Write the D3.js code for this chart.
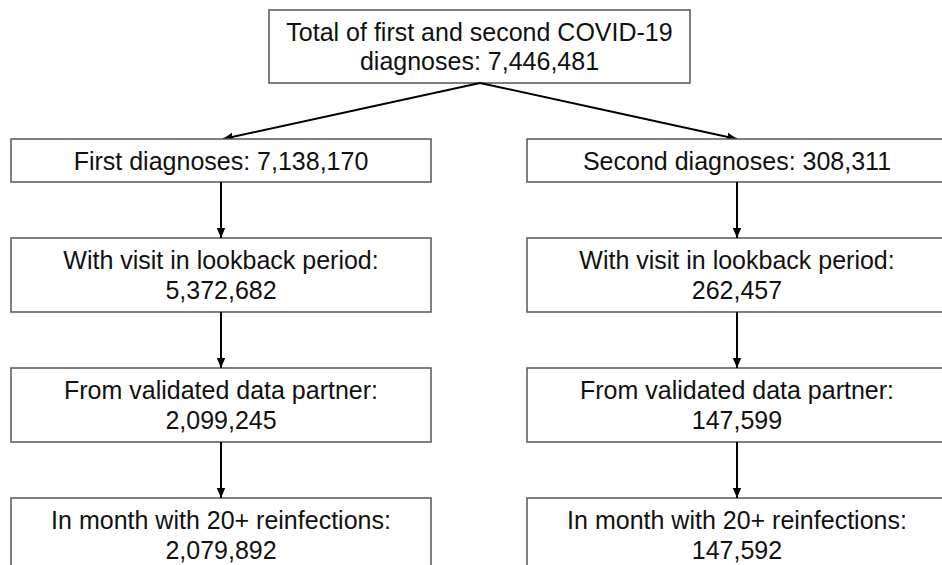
<!DOCTYPE html>
<html>
<head>
<meta charset="utf-8">
<title>COVID-19 diagnoses flowchart</title>
<script src="https://cdn.jsdelivr.net/npm/d3@7"></script>
<style>
  body { margin: 0; background: #fff; }
  svg { display: block; }
  text {
    font-family: Helvetica, Arial, "Liberation Sans", sans-serif;
    font-size: 25px;
    fill: #111;
    text-anchor: middle;
  }
  rect.box { fill: #fff; stroke: #555; stroke-width: 1.5; }
  line.arrow { stroke: #000; stroke-width: 2; }
</style>
</head>
<body>
<script>
// data
const totalLabel = ["Total of first and second COVID-19", "diagnoses:"];
const totalCount = 7446481;
const groups = ["First", "Second"];
const steps = ["diagnoses", "With visit in lookback period", "From validated data partner", "In month with 20+ reinfections"];
const firstCounts = [7138170, 5372682, 2099245, 2079892];
const secondCounts = [308311, 262457, 147599, 147592];

const width = 942, height = 565;
const fmt = d3.format(",");
const boxW = 420, lineH = 30, capHalf = 9;

const svg = d3.select("body").append("svg")
  .attr("width", width)
  .attr("height", height);

svg.append("defs").append("marker")
  .attr("id", "head")
  .attr("viewBox", "0 0 10 10")
  .attr("refX", 10).attr("refY", 5)
  .attr("markerWidth", 10).attr("markerHeight", 10)
  .attr("markerUnits", "userSpaceOnUse")
  .attr("orient", "auto")
  .append("path")
  .attr("d", "M0,0.8L10,5L0,9.2Z")
  .attr("fill", "#000");

// column centres
const x = d3.scalePoint().domain(groups).range([221, 737]);

// rows: single-line first row, two-line rows after
const rowH = steps.map((s, i) => i === 0 ? 43 : 74);
const gap = 56;
const rowTop = [];
rowH.forEach((h, i) => rowTop.push(i === 0 ? 139 : rowTop[i - 1] + rowH[i - 1] + gap));
const y = d3.scaleOrdinal().domain(steps).range(rowTop);

// top box
const root = { cx: 479.5, y: 10, w: 421, h: 73 };
svg.append("rect").attr("class", "box")
  .attr("x", root.cx - root.w / 2).attr("y", root.y)
  .attr("width", root.w).attr("height", root.h);

const rootLines = [totalLabel[0], `${totalLabel[1]} ${fmt(totalCount)}`];
svg.append("g").selectAll("text").data(rootLines).join("text")
  .attr("x", root.cx)
  .attr("y", (d, i) => root.y + root.h / 2 + capHalf + (i - 0.5) * 29)
  .text(d => d);

// branch arrows
svg.append("g").selectAll("line").data(groups).join("line")
  .attr("class", "arrow")
  .attr("x1", root.cx + 0.5).attr("y1", root.y + root.h)
  .attr("x2", d => x(d) + (d === "First" ? 2 : 0)).attr("y2", y(steps[0]))
  .attr("marker-end", "url(#head)");

// boxes
const nodes = [];
groups.forEach((g, gi) => {
  const counts = gi === 0 ? firstCounts : secondCounts;
  steps.forEach((s, si) => {
    const lines = si === 0
      ? [`${g} ${s}: ${fmt(counts[si])}`]
      : [`${s}:`, fmt(counts[si])];
    nodes.push({ group: g, step: s, si, lines, h: rowH[si] });
  });
});

const node = svg.append("g").selectAll("g").data(nodes).join("g");

node.append("rect").attr("class", "box")
  .attr("x", d => x(d.group) - boxW / 2)
  .attr("y", d => y(d.step))
  .attr("width", boxW)
  .attr("height", d => d.h);

node.each(function (d) {
  const n = d.lines.length;
  d3.select(this).selectAll("text").data(d.lines).join("text")
    .attr("x", x(d.group))
    .attr("y", (t, i) => y(d.step) + d.h / 2 + capHalf + (i - (n - 1) / 2) * lineH)
    .text(t => t);
});

// vertical arrows between steps
const links = nodes.filter(d => d.si > 0);
svg.append("g").selectAll("line").data(links).join("line")
  .attr("class", "arrow")
  .attr("x1", d => x(d.group)).attr("x2", d => x(d.group))
  .attr("y1", d => y(steps[d.si - 1]) + rowH[d.si - 1])
  .attr("y2", d => y(d.step))
  .attr("marker-end", "url(#head)");
</script>
</body>
</html>
